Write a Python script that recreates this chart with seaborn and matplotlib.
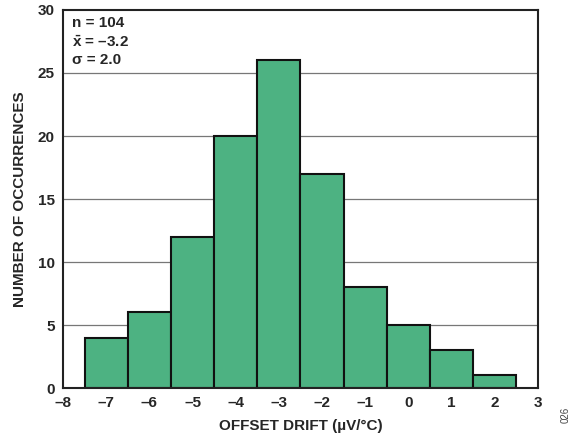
import matplotlib
matplotlib.use("Agg")
import matplotlib.pyplot as plt
import numpy as np
import seaborn as sns

# offset drift bins (centres, uV/C) and counts
drift_centres = [-7, -6, -5, -4, -3, -2, -1, 0, 1, 2]
counts = [4, 6, 12, 20, 26, 17, 8, 5, 3, 1]
bin_edges = [-7.5, -6.5, -5.5, -4.5, -3.5, -2.5, -1.5, -0.5, 0.5, 1.5, 2.5]
x_ticks = [-8, -7, -6, -5, -4, -3, -2, -1, 0, 1, 2, 3]
y_ticks = [0, 5, 10, 15, 20, 25, 30]

sns.set_style("white")
plt.rcParams['font.family'] = ['Liberation Sans', 'DejaVu Sans']
plt.rcParams['font.weight'] = 'bold'
plt.rcParams['mathtext.fontset'] = 'custom'
plt.rcParams['mathtext.bf'] = 'Liberation Sans:bold'
plt.rcParams['mathtext.rm'] = 'Liberation Sans:bold'

fig = plt.figure(figsize=(5.74, 4.46), dpi=100)
ax = fig.add_axes([0.1098, 0.130, 0.8272, 0.8476])

for yv in y_ticks[1:-1]:
    ax.axhline(yv, color='#777777', lw=0.9, zorder=0)

sns.histplot(x=drift_centres, weights=counts, bins=bin_edges, ax=ax,
             color='#4DB282', alpha=1, edgecolor='#111111', linewidth=1.5, zorder=2)

ax.set_xlim(-8, 3)
ax.set_ylim(0, 30)
ax.set_xticks(x_ticks)
ax.set_xticklabels([str(t).replace('-', '\u2013') for t in x_ticks])
ax.set_yticks(y_ticks)
ax.tick_params(axis='both', labelsize=11, length=0, pad=6)
for lab in ax.get_xticklabels() + ax.get_yticklabels():
    lab.set_fontweight('bold')

for s in ax.spines.values():
    s.set_color('#222222')
    s.set_linewidth(1.5)

ax.set_xlabel('OFFSET DRIFT (\u00b5V/\u00b0C)', fontsize=11, fontweight='bold', labelpad=6)
ax.set_ylabel('NUMBER OF OCCURRENCES', fontsize=11, fontweight='bold', labelpad=8)

stats_lines = ['n = 104', r'$\bar{\mathrm{x}}$' + ' = \u20133.2', '\u03c3 = 2.0']
for i, line in enumerate(stats_lines):
    ax.text(0.018, 0.985 - i * 0.05, line, transform=ax.transAxes,
            ha='left', va='top', fontsize=11, fontweight='bold')

fig.text(0.985, 0.07, '026', rotation=90, fontsize=7, color='#444444',
         fontweight='normal', ha='center', va='center')

fig.savefig('out.png', dpi=100)
